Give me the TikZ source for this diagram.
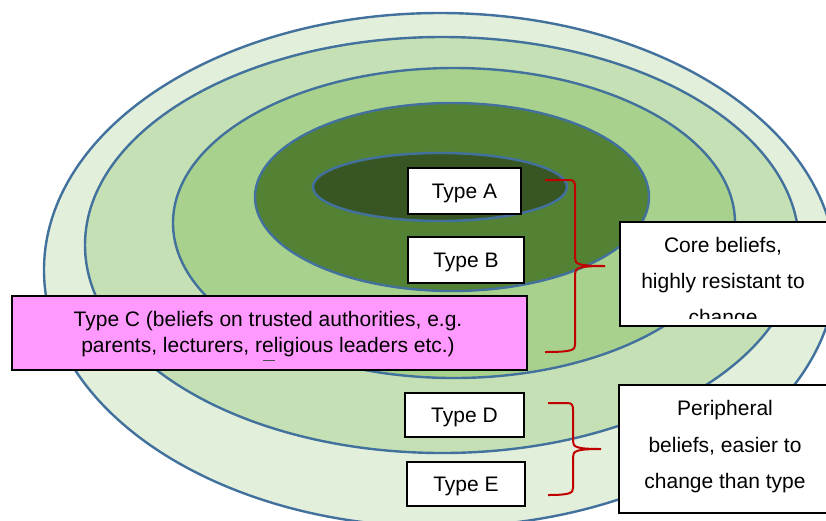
\documentclass[tikz,border=0pt]{standalone}
\usepackage{fontspec}
\setmainfont{Liberation Sans}
\definecolor{ringline}{HTML}{41719C}
\definecolor{ringE}{HTML}{E2EFDA}
\definecolor{ringD}{HTML}{C5E0B4}
\definecolor{ringC}{HTML}{A9D18E}
\definecolor{ringB}{HTML}{548235}
\definecolor{ringA}{HTML}{375623}
\definecolor{pinkbox}{HTML}{FF99FF}
\definecolor{bracered}{HTML}{C00000}
\begin{document}
\begin{tikzpicture}[x=1pt,y=-1pt,
  ring/.style={draw=ringline, line width=2.4pt},
  typebox/.style={draw=black, fill=white, line width=1.7pt, inner sep=0pt,
    text height=15.5pt, text depth=0.5pt,
    font=\fontsize{21}{25}\selectfont},
  notebox/.style={draw=black, fill=white, line width=1.7pt, inner sep=0pt},
  noteline/.style={anchor=base, inner sep=0pt, font=\fontsize{21}{25}\selectfont},
  brace/.style={draw=bracered, line width=2pt}]
\useasboundingbox (0,0) rectangle (826,520);
\clip (0,0) rectangle (826,520);

% nested belief rings, outermost first
\path[ring, fill=ringE] (440,270) ellipse [x radius=396pt, y radius=257pt];
\path[ring, fill=ringD] (442,245) ellipse [x radius=357pt, y radius=208pt];
\path[ring, fill=ringC] (454,223) ellipse [x radius=281pt, y radius=155pt];
\path[ring, fill=ringB] (452,197) ellipse [x radius=197pt, y radius=94pt];
\path[ring, fill=ringA] (440,187) ellipse [x radius=127pt, y radius=34pt];

% type labels
\node[typebox, minimum width=113pt, minimum height=46pt] (ta) at (464.5,191) {Type A};
\node[typebox, minimum width=116pt, minimum height=46pt] (tb) at (466,260) {Type B};
\node[typebox, minimum width=119pt, minimum height=44pt] (td) at (464.5,415) {Type D};
\node[typebox, minimum width=118pt, minimum height=44pt] (te) at (466,484) {Type E};

\node[draw=black, fill=pinkbox, line width=1.7pt, inner sep=0pt,
  minimum width=515pt, minimum height=74pt, align=center,
  font=\fontsize{21}{26}\selectfont] (tc) at (269.5,333)
  {};
\node[align=center, inner sep=0pt, font=\fontsize{21}{26}\selectfont] (tctext) at (268,334)
  {Type C (beliefs on trusted authorities, e.g.\\parents, lecturers, religious leaders etc.)};
\draw[black!70, line width=1pt] (263,360) -- (275,360);

% core beliefs note
\node[notebox, minimum width=220pt, minimum height=104pt] (core) at (730,274) {};
\begin{scope}
  \clip (620,222) rectangle (840,318);
  \node[noteline] (core1) at (723,252) {Core beliefs,};
  \node[noteline] (core2) at (723,288) {highly resistant to};
  \node[noteline] (core3) at (723,324) {change};
\end{scope}

% peripheral beliefs note
\node[notebox, minimum width=221pt, minimum height=128pt] (peri) at (729.5,449) {};
\node[noteline] (peri1) at (725,415) {Peripheral};
\node[noteline] (peri2) at (725,452) {beliefs, easier to};
\node[noteline] (peri3) at (725,488) {change than type};

% braces
\coordinate (b1top) at (545,180);
\coordinate (b1tip) at (605,266);
\coordinate (b1bot) at (545,352);
\draw[brace] (b1top) -- (569,180) .. controls (574,180) and (575,182) .. (575,187)
  -- (575,258) .. controls (575,264) and (578,266) .. (b1tip)
  .. controls (578,266) and (575,268) .. (575,274)
  -- (575,345) .. controls (575,350) and (572,352) .. (b1bot);

\coordinate (b2top) at (548,403);
\coordinate (b2tip) at (601,449);
\coordinate (b2bot) at (548,495);
\draw[brace] (b2top) -- (567,403) .. controls (572,403) and (573,405) .. (573,410)
  -- (573,441) .. controls (573,447) and (576,449) .. (b2tip)
  .. controls (576,449) and (573,451) .. (573,457)
  -- (573,488) .. controls (573,493) and (570,495) .. (b2bot);
\end{tikzpicture}
\end{document}
